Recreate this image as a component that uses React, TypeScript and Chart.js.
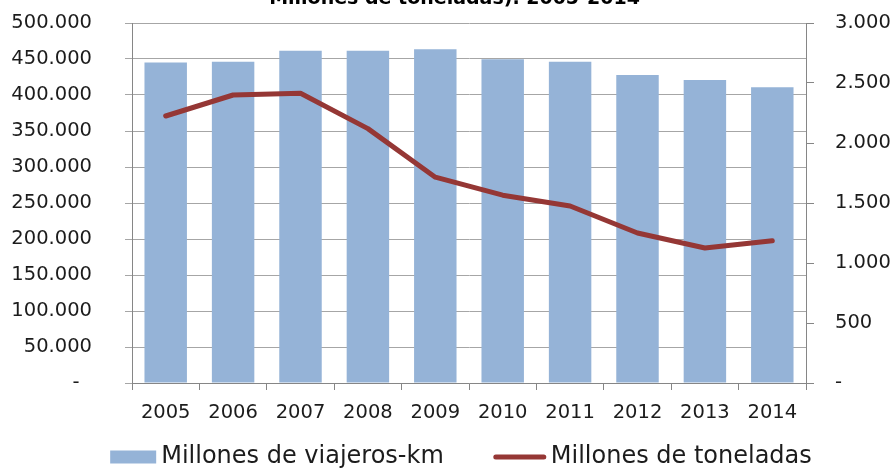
import React, { useEffect, useRef } from "react";
import { Chart, registerables } from "chart.js";

Chart.register(...registerables);

const years = ["2005", "2006", "2007", "2008", "2009", "2010", "2011", "2012", "2013", "2014"];
const viajerosKm = [445000, 446300, 461500, 461600, 463400, 449500, 446300, 427800, 420800, 410600];
const toneladas = [2225, 2400, 2415, 2120, 1715, 1565, 1475, 1250, 1125, 1185];
const seriesLabels = ["Millones de viajeros-km", "Millones de toneladas"];
const titleText = "Millones de toneladas). 2005-2014";
const leftMax = 500000;
const leftStep = 50000;
const rightMax = 3000;
const rightStep = 500;

const BAR_COLOR = "#95b3d7";
const LINE_COLOR = "#953735";
const GRID_COLOR = "#a6a6a6";
const AXIS_COLOR = "#868686";
const TEXT_COLOR = "#1c1c1c";
const FONT = '"DejaVu Sans", sans-serif';

function fmt(v: number): string {
  return String(Math.round(v)).replace(/\B(?=(\d{3})+(?!\d))/g, ".");
}

const titlePlugin = {
  id: "cutTitle",
  afterDraw(chart: any) {
    const ctx = chart.ctx;
    ctx.save();
    ctx.font = `bold 19px ${FONT}`;
    ctx.fillStyle = "#000";
    ctx.textAlign = "center";
    ctx.textBaseline = "alphabetic";
    ctx.fillText(titleText, chart.width / 2 + 7, 4);
    ctx.restore();
  },
};

const legendPlugin = {
  id: "customLegend",
  afterDraw(chart: any) {
    const ctx = chart.ctx;
    const ds = chart.data.datasets;
    ctx.save();
    ctx.font = `24px ${FONT}`;
    ctx.fillStyle = TEXT_COLOR;
    ctx.textBaseline = "middle";
    ctx.textAlign = "left";
    const boxW = 46, boxH = 13, lineLen = 52, gap = 5, itemGap = 50;
    const w1 = ctx.measureText(ds[0].label).width;
    const w2 = ctx.measureText(ds[1].label).width;
    const total = boxW + gap + w1 + itemGap + lineLen + gap + w2;
    const cx = (chart.chartArea.left + chart.chartArea.right) / 2 - 8;
    let x = cx - total / 2;
    const y = 457;
    ctx.fillStyle = ds[0].backgroundColor;
    ctx.fillRect(x, y - boxH / 2, boxW, boxH);
    x += boxW + gap;
    ctx.fillStyle = TEXT_COLOR;
    ctx.fillText(ds[0].label, x, y);
    x += w1 + itemGap;
    ctx.strokeStyle = ds[1].borderColor;
    ctx.lineWidth = 5;
    ctx.lineCap = "round";
    ctx.beginPath();
    ctx.moveTo(x + 2, y);
    ctx.lineTo(x + lineLen - 2, y);
    ctx.stroke();
    x += lineLen + gap;
    ctx.fillText(ds[1].label, x, y);
    ctx.restore();
  },
};

export default function App() {
  const ref = useRef<HTMLCanvasElement | null>(null);

  useEffect(() => {
    if (!ref.current) return;
    const chart = new Chart(ref.current, {
      type: "bar",
      data: {
        labels: years,
        datasets: [
          {
            type: "bar",
            label: seriesLabels[0],
            data: viajerosKm,
            backgroundColor: BAR_COLOR,
            borderWidth: 0,
            barPercentage: 0.63,
            categoryPercentage: 1,
            yAxisID: "y",
            order: 1,
          },
          {
            type: "line",
            label: seriesLabels[1],
            data: toneladas,
            borderColor: LINE_COLOR,
            backgroundColor: LINE_COLOR,
            borderWidth: 5,
            pointRadius: 0,
            tension: 0,
            borderCapStyle: "round",
            borderJoinStyle: "round",
            yAxisID: "y1",
            order: 0,
          },
        ] as any,
      },
      options: {
        responsive: false,
        animation: false,
        layout: { padding: { top: 23, left: 0, right: 0, bottom: 0 } },
        plugins: {
          legend: { display: false },
          title: { display: false },
          tooltip: { enabled: false },
        },
        scales: {
          x: {
            offset: true,
            grid: {
              display: true,
              offset: true,
              drawOnChartArea: false,
              drawTicks: true,
              tickLength: 7,
              color: AXIS_COLOR,
            },
            border: { display: true, color: AXIS_COLOR, width: 1 },
            ticks: {
              color: TEXT_COLOR,
              font: { family: FONT, size: 19.5 },
              padding: 11,
              maxRotation: 0,
            },
            afterFit(scale: any) {
              scale.height = 85;
              scale.paddingLeft = 0;
              scale.paddingRight = 0;
            },
          },
          y: {
            position: "left",
            min: 0,
            max: leftMax,
            grid: {
              color: GRID_COLOR,
              drawTicks: true,
              tickLength: 7,
            },
            border: { display: true, color: AXIS_COLOR, width: 1 },
            ticks: {
              stepSize: leftStep,
              color: TEXT_COLOR,
              font: { family: FONT, size: 19.5 },
              padding: 33,
              callback: (v: any) => (Number(v) === 0 ? "-  " : fmt(Number(v))),
            },
            afterFit(scale: any) {
              scale.width = 132;
              scale.paddingTop = 0;
              scale.paddingBottom = 0;
            },
          },
          y1: {
            position: "right",
            min: 0,
            max: rightMax,
            grid: {
              drawOnChartArea: false,
              drawTicks: true,
              tickLength: 8,
              color: AXIS_COLOR,
            },
            border: { display: true, color: AXIS_COLOR, width: 1 },
            ticks: {
              stepSize: rightStep,
              color: TEXT_COLOR,
              font: { family: FONT, size: 19.5 },
              padding: 21,
              callback: (v: any) => (Number(v) === 0 ? "-" : fmt(Number(v))),
            },
            afterFit(scale: any) {
              scale.width = 89;
              scale.paddingTop = 0;
              scale.paddingBottom = 0;
            },
          },
        },
      } as any,
      plugins: [titlePlugin, legendPlugin],
    });
    return () => chart.destroy();
  }, []);

  return (
    <div style={{ position: "fixed", left: 0, top: 0, width: 895, height: 468, background: "#fff" }}>
      <canvas ref={ref} width={895} height={468} style={{ display: "block" }} />
    </div>
  );
}
